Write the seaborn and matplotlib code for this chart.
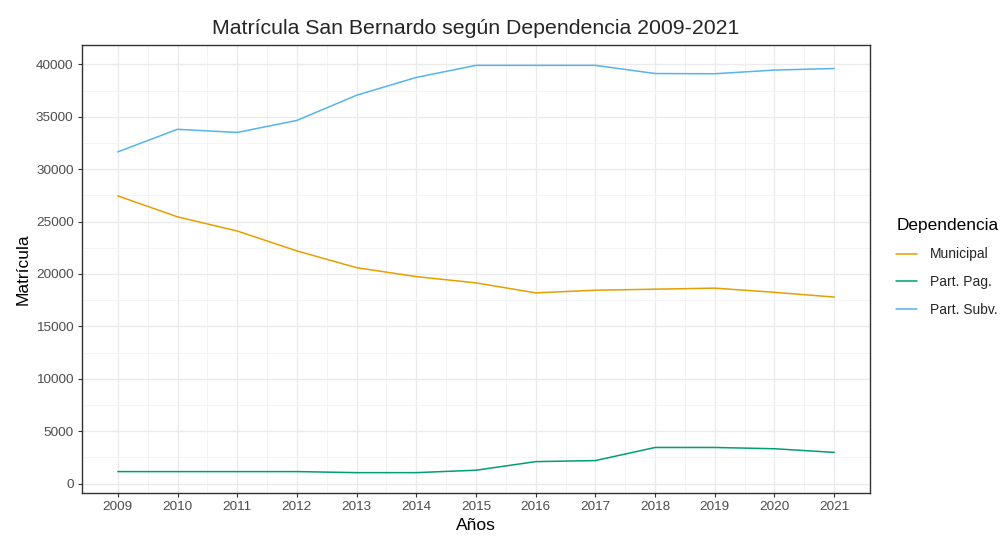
import matplotlib
matplotlib.use("Agg")
import matplotlib.pyplot as plt
import seaborn as sns
import pandas as pd
import numpy as np
from matplotlib.lines import Line2D

years = [2009, 2010, 2011, 2012, 2013, 2014, 2015, 2016, 2017, 2018, 2019, 2020, 2021]
municipal = [27450, 25450, 24100, 22200, 20600, 19750, 19150, 18200, 18450, 18550, 18650, 18250, 17800]
part_pag = [1150, 1150, 1150, 1150, 1050, 1050, 1280, 2100, 2200, 3450, 3450, 3330, 2980]
part_subv = [31650, 33800, 33500, 34650, 37050, 38750, 39900, 39900, 39900, 39120, 39100, 39450, 39600]
series_names = ["Municipal", "Part. Pag.", "Part. Subv."]
colors = ["#E69F00", "#009E73", "#56B4E9"]

df = pd.DataFrame({
    "Años": years * 3,
    "Matrícula": municipal + part_pag + part_subv,
    "Dependencia": [series_names[0]] * len(years) + [series_names[1]] * len(years) + [series_names[2]] * len(years),
})

sns.set_theme(style="white")
plt.rcParams['font.family'] = ['Liberation Sans', 'DejaVu Sans']

fig = plt.figure(figsize=(10.03, 5.36), dpi=100)
W, H = 1003, 536
left, right, top, bottom = 82, 870, 45, 493
ax = fig.add_axes([left / W, 1 - bottom / H, (right - left) / W, (bottom - top) / H])

sns.lineplot(data=df, x="Años", y="Matrícula", hue="Dependencia",
             palette=dict(zip(series_names, colors)), ax=ax, linewidth=1.1,
             legend=False, zorder=3)

ax.set_xticks(years)
ax.set_xticks([y + 0.5 for y in years[:-1]], minor=True)
yt = list(range(0, 40001, 5000))
ax.set_yticks(yt)
ax.set_yticks([v + 2500 for v in yt[:-1]], minor=True)
ax.set_xticklabels([str(y) for y in years])
ax.set_yticklabels([str(v) for v in yt])

# ggplot-like expansion (set after ticks)
xr = max(years) - min(years)
ax.set_xlim(min(years) - 0.05 * xr, max(years) + 0.05 * xr)
allv = municipal + part_pag + part_subv
yr = max(allv) - min(allv)
ax.set_ylim(min(allv) - 0.05 * yr, max(allv) + 0.05 * yr)

ax.grid(which="major", color="#EBEBEB", linewidth=1.0, zorder=0)
ax.grid(which="minor", color="#F2F2F2", linewidth=0.6, zorder=0)
ax.set_axisbelow(True)
for s in ax.spines.values():
    s.set_color("#333333")
    s.set_linewidth(1.0)
ax.tick_params(axis="both", which="major", length=3, width=0.8, color="#333333",
               labelsize=9.7, labelcolor="#4D4D4D", pad=3, bottom=True, left=True)
ax.tick_params(which="minor", length=0)

ax.set_xlabel("Años", fontsize=12.5, color="black", labelpad=3)
ax.set_ylabel("Matrícula", fontsize=12.5, color="black", labelpad=4)
ax.set_title("Matrícula San Bernardo según Dependencia 2009-2021", fontsize=15.3, pad=8)

handles = [Line2D([0], [0], color=c, lw=1.1) for c in colors]
leg = fig.legend(handles, series_names, title="Dependencia", loc="upper left",
                 bbox_to_anchor=(884 / W, 1 - 206 / H), frameon=False,
                 fontsize=10.0, title_fontsize=12.4, handlelength=1.5,
                 labelspacing=1.0, handletextpad=0.9, alignment="left")
leg.get_title().set_color("black")

fig.savefig("out.png", dpi=100)
